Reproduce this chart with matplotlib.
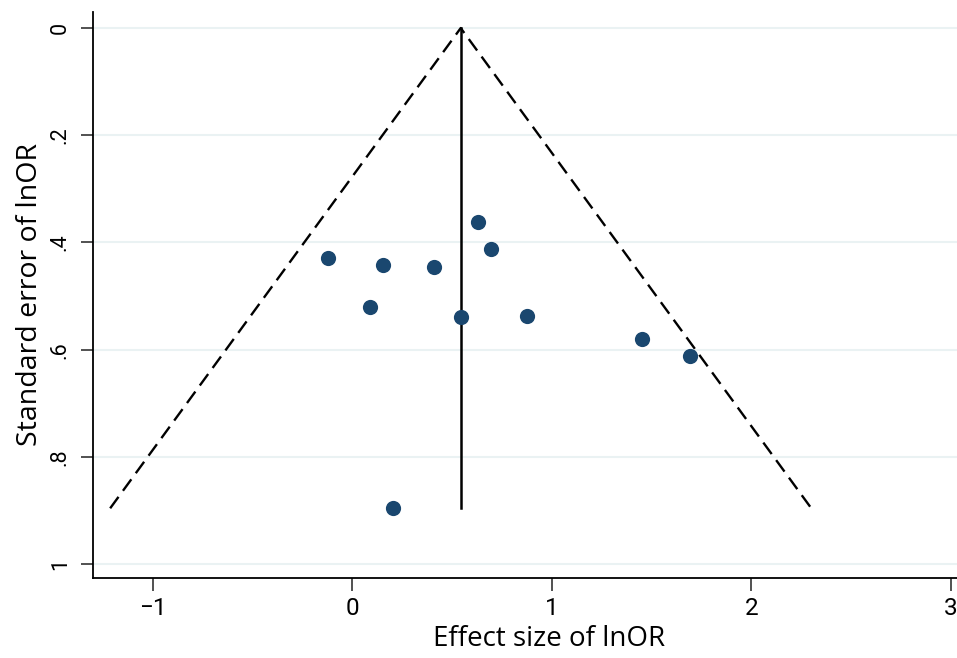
import matplotlib
matplotlib.use("Agg")
from matplotlib import pyplot as plt
import numpy as np

# study estimates
effect = [0.633, 0.697, -0.119, 0.154, 0.411, 0.090, 0.545, 0.876, 1.452, 1.691, 0.207]
se = [0.361, 0.412, 0.4285, 0.4415, 0.445, 0.521, 0.540, 0.537, 0.580, 0.611, 0.895]

pooled = 0.544
se_max = 0.896
z = 1.96

xticks = [-1, 0, 1, 2, 3]
xlabels = ['\u22121', '0', '1', '2', '3']
yticks = [0, 0.2, 0.4, 0.6, 0.8, 1]
ylabels = ['0', '.2', '.4', '.6', '.8', '1']

fig = plt.figure(figsize=(9.57, 6.58), dpi=100)
ax = fig.add_axes([0.0972, 0.1216, 0.9028, 0.8602])

for t in yticks:
    ax.axhline(t, color='#eaf2f3', linewidth=1.5, zorder=0)

# pseudo 95% confidence limits
ax.plot([pooled - z * se_max, pooled, pooled + z * se_max], [se_max, 0, se_max],
        color='black', linestyle=(0, (6, 3.2)), linewidth=1.7, zorder=2)
ax.plot([pooled, pooled], [0, se_max], color='black', linewidth=1.8, zorder=2)

ax.scatter(effect, se, s=120, color='#1a476f', zorder=3, linewidths=0)

ax.set_xlim(-1.298, 3.03)
ax.set_ylim(1.026, -0.03)

ax.set_xticks(xticks)
ax.set_xticklabels(xlabels, fontsize=17.5, family='Roboto')
ax.set_yticks(yticks)
ax.set_yticklabels(ylabels, fontsize=15.5, rotation=90, va='center', family='Roboto')
ax.tick_params(axis='both', direction='out', length=9, width=1.2, color='#333333')
ax.tick_params(axis='x', pad=5)
ax.tick_params(axis='y', pad=7)

ax.spines['top'].set_visible(False)
ax.spines['right'].set_visible(False)
ax.spines['left'].set_linewidth(1.3)
ax.spines['bottom'].set_linewidth(1.3)

ax.set_xlabel('Effect size of lnOR', fontsize=20, family='Open Sans')
ax.xaxis.set_label_coords(0.528, -0.083)
ax.set_ylabel('Standard error of lnOR', fontsize=20.5, family='Open Sans', labelpad=4)

fig.savefig('out.png', dpi=100)
